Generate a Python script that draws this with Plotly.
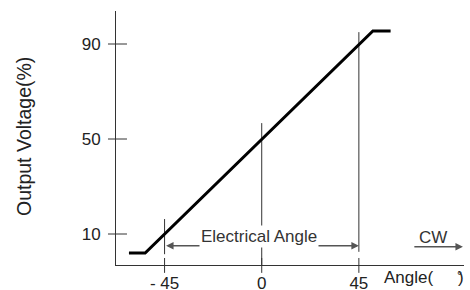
import plotly.graph_objects as go

# ---- data ----
angle_deg = [-61.5, -54.0, 51.5, 59.7]
voltage_pct = [2, 2, 95.5, 95.5]

xtick_vals = [-45, 0, 45]
xtick_text = ["- 45", "0", "45"]
ytick_vals = [10, 50, 90]
ytick_text = ["10", "50", "90"]

guide_angles = [-45, 0, 45]
guide_tops = [16.3, 56.7, 95.0]
guide_bottoms = [1.5, -3.05, 2.5]

elec_span = [-45, 45]
elec_level = 5.07
cw_span = [70.0, 93.2]
cw_level = 4.65

x_range = [-67.5, 93.7]
y_range = [-3.05, 103.9]

FONT = "Liberation Sans, Arial, sans-serif"
TXT = "#222222"
AX = "#333333"

fig = go.Figure()
fig.add_trace(go.Scatter(x=angle_deg, y=voltage_pct, mode="lines",
                         line=dict(color="black", width=3), hoverinfo="skip",
                         showlegend=False))

shapes = []
for a, t, b in zip(guide_angles, guide_tops, guide_bottoms):
    shapes.append(dict(type="line", xref="x", yref="y", x0=a, x1=a, y0=b, y1=t,
                       line=dict(color=AX, width=1), layer="below"))
for a in xtick_vals:
    shapes.append(dict(type="line", xref="x", yref="paper", x0=a, x1=a,
                       y0=0.0276, y1=-0.031, line=dict(color=AX, width=1)))
for v in ytick_vals:
    shapes.append(dict(type="line", xref="paper", yref="y", x0=-0.023, x1=0.0316,
                       y0=v, y1=v, line=dict(color=AX, width=1)))

annotations = [
    dict(x=elec_span[1], y=elec_level, ax=elec_span[0], ay=elec_level,
         xref="x", yref="y", axref="x", ayref="y", text="", showarrow=True,
         arrowside="end+start", arrowhead=2, arrowsize=1.0, arrowwidth=1.5,
         arrowcolor="#555555", standoff=0, startstandoff=0),
    dict(x=sum(elec_span) / 2 - 1.2, y=8.9, xref="x", yref="y",
         text="Electrical Angle", showarrow=False, bgcolor="white",
         font=dict(family=FONT, size=17, color="#333333")),
    dict(x=cw_span[1], y=cw_level, ax=cw_span[0], ay=cw_level,
         xref="x", yref="y", axref="x", ayref="y", text="", showarrow=True,
         arrowhead=2, arrowsize=1.0, arrowwidth=1.5, arrowcolor="#555555",
         standoff=0),
    dict(x=79.3, y=8.7, xref="x", yref="y", text="CW", showarrow=False,
         font=dict(family=FONT, size=17, color="#333333")),
    dict(x=55.9, y=-0.049, xref="x", yref="paper", text="Angle(",
         xanchor="left", yanchor="middle", showarrow=False,
         font=dict(family=FONT, size=17, color=TXT)),
    dict(x=92.5, y=-0.049, xref="x", yref="paper", text=")",
         xanchor="center", yanchor="middle", showarrow=False,
         font=dict(family=FONT, size=17, color=TXT)),
    dict(x=91.6, y=-0.04, xref="x", yref="paper", text="°",
         xanchor="center", yanchor="middle", showarrow=False,
         font=dict(family=FONT, size=13, color=TXT)),
    dict(x=(24 - 116) / 348.0, y=(265 - 137) / 254.0, xref="paper", yref="paper",
         text="Output Voltage(%)", textangle=-90, showarrow=False,
         xanchor="center", yanchor="middle",
         font=dict(family=FONT, size=19.5, color=TXT)),
]

fig.update_layout(
    template="none",
    width=470, height=290,
    margin=dict(l=116, r=6, t=11, b=25, autoexpand=False),
    plot_bgcolor="white", paper_bgcolor="white",
    font=dict(family=FONT, size=17, color=TXT),
    shapes=shapes, annotations=annotations,
    xaxis=dict(range=x_range, showgrid=False, zeroline=False, showline=True,
               automargin=False,
               linecolor=AX, linewidth=1, ticks="", tickvals=xtick_vals,
               ticktext=xtick_text, ticklabelstandoff=3,
               tickfont=dict(family=FONT, size=17, color=TXT)),
    yaxis=dict(range=y_range, showgrid=False, zeroline=False, showline=True,
               automargin=False,
               linecolor=AX, linewidth=1, ticks="", tickvals=ytick_vals,
               ticktext=ytick_text, ticklabelstandoff=11,
               tickfont=dict(family=FONT, size=17, color=TXT)),
)

fig.write_html("out.html", config={"displayModeBar": False},
               post_script="document.body.style.margin='0';document.body.style.padding='0';")
